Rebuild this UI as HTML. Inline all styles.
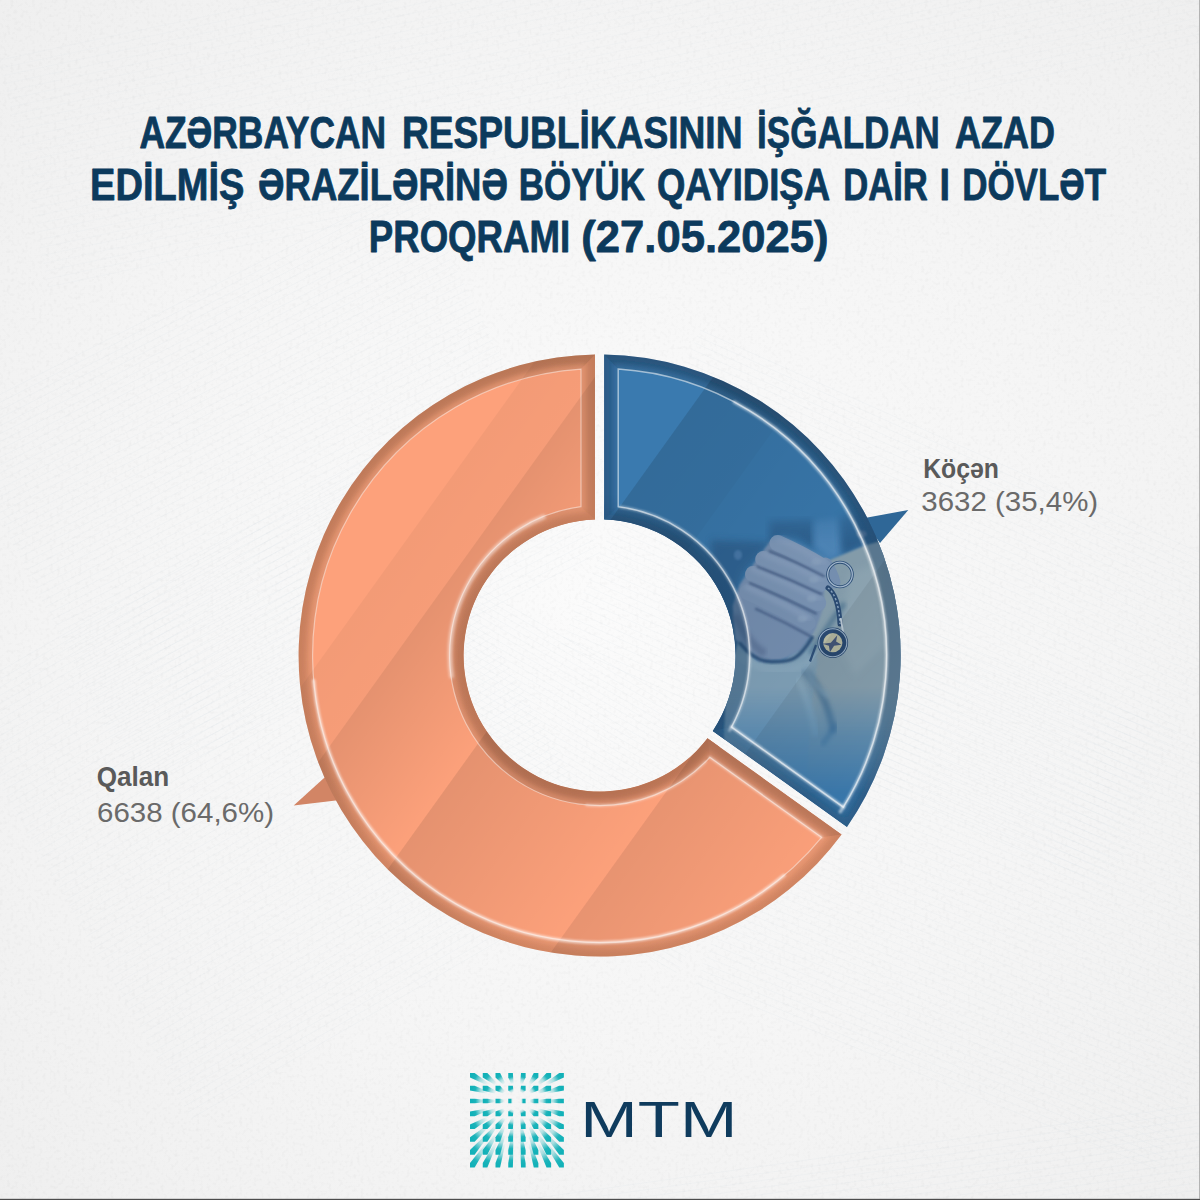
<!DOCTYPE html>
<html lang="az">
<head>
<meta charset="utf-8">
<title>Böyük Qayıdış</title>
<style>
html,body{margin:0;padding:0;background:#f5f5f5;}
body{width:1200px;height:1200px;overflow:hidden;position:relative;font-family:"Liberation Sans",sans-serif;}
svg{position:absolute;left:0;top:0;display:block}
.t{font-family:"Liberation Sans",sans-serif;font-weight:700;font-size:43.5px;fill:#0c3a5c;stroke:#0c3a5c;stroke-width:0.8px;stroke-linejoin:round}
.lb{font-family:"Liberation Sans",sans-serif;font-weight:700;font-size:27px;fill:#5a5a5a}
.lv{font-family:"Liberation Sans",sans-serif;font-weight:400;font-size:28px;fill:#6a6a6a}
.mtm{font-family:"Liberation Sans",sans-serif;font-weight:400;font-size:50.5px;fill:#0f3b5d}
</style>
</head>
<body>
<svg width="1200" height="1200" viewBox="0 0 1200 1200">
<defs>
<radialGradient id="bgv" cx="0.5" cy="0.5" r="0.75">
<stop offset="0" stop-color="#fbfbfb"/><stop offset="0.55" stop-color="#f5f5f5"/><stop offset="0.95" stop-color="#efefef"/>
</radialGradient>
<filter id="paper" x="0" y="0" width="100%" height="100%"><feTurbulence type="fractalNoise" baseFrequency="0.28" numOctaves="2" seed="4"/><feColorMatrix type="matrix" values="0 0 0 0 0  0 0 0 0 0  0 0 0 0 0  0.9 0 0 0 -0.42"/></filter>
<linearGradient id="glossO" gradientUnits="userSpaceOnUse" x1="348.4" y1="475.0" x2="855.9" y2="839.7"><stop offset="0.0000" stop-color="#000" stop-opacity="0.000"/><stop offset="0.1352" stop-color="#000" stop-opacity="0.000"/><stop offset="0.1368" stop-color="#000" stop-opacity="0.040"/><stop offset="0.2280" stop-color="#000" stop-opacity="0.028"/><stop offset="0.2296" stop-color="#000" stop-opacity="0.095"/><stop offset="0.4184" stop-color="#000" stop-opacity="0.005"/><stop offset="0.4200" stop-color="#000" stop-opacity="0.095"/><stop offset="0.7080" stop-color="#000" stop-opacity="0.005"/><stop offset="0.7096" stop-color="#000" stop-opacity="0.085"/><stop offset="1.0000" stop-color="#000" stop-opacity="0.000"/></linearGradient>
<linearGradient id="glossB" gradientUnits="userSpaceOnUse" x1="348.4" y1="475.0" x2="855.9" y2="839.7"><stop offset="0.0000" stop-color="#000" stop-opacity="0.000"/><stop offset="0.3816" stop-color="#000" stop-opacity="0.000"/><stop offset="0.3832" stop-color="#000" stop-opacity="0.125"/><stop offset="0.5096" stop-color="#000" stop-opacity="0.110"/><stop offset="0.5112" stop-color="#000" stop-opacity="0.085"/><stop offset="0.7752" stop-color="#000" stop-opacity="0.030"/><stop offset="0.7768" stop-color="#000" stop-opacity="0.090"/><stop offset="1.0000" stop-color="#000" stop-opacity="0.010"/></linearGradient>
<linearGradient id="ovO" gradientUnits="userSpaceOnUse" x1="0" y1="354" x2="0" y2="956"><stop offset="0" stop-color="#c07c5c"/><stop offset="0.5" stop-color="#d48866"/><stop offset="1" stop-color="#e3926e"/></linearGradient>
<linearGradient id="ivO" gradientUnits="userSpaceOnUse" x1="0" y1="519" x2="0" y2="791"><stop offset="0" stop-color="#dc8d6a"/><stop offset="0.5" stop-color="#cf8463"/><stop offset="1" stop-color="#c27a5b"/></linearGradient>
<linearGradient id="ovB" gradientUnits="userSpaceOnUse" x1="0" y1="354" x2="0" y2="956"><stop offset="0" stop-color="#2b5982"/><stop offset="0.5" stop-color="#2f6391"/><stop offset="1" stop-color="#346c9c"/></linearGradient>
<linearGradient id="ivB" gradientUnits="userSpaceOnUse" x1="0" y1="519" x2="0" y2="791"><stop offset="0" stop-color="#336a9a"/><stop offset="0.5" stop-color="#2f6391"/><stop offset="1" stop-color="#2b5a85"/></linearGradient>
<filter id="b4" x="-10%" y="-10%" width="120%" height="120%"><feGaussianBlur stdDeviation="3.5"/></filter>
<filter id="b2" x="-10%" y="-10%" width="120%" height="120%"><feGaussianBlur stdDeviation="2"/></filter>
<filter id="b15" x="-10%" y="-10%" width="120%" height="120%"><feGaussianBlur stdDeviation="1.5"/></filter>
<filter id="b1" x="-10%" y="-10%" width="120%" height="120%"><feGaussianBlur stdDeviation="0.9"/></filter>
<filter id="b6" x="-20%" y="-20%" width="140%" height="140%"><feGaussianBlur stdDeviation="6"/></filter>
<linearGradient id="pmg" gradientUnits="userSpaceOnUse" x1="0" y1="495" x2="0" y2="795"><stop offset="0" stop-color="#fff" stop-opacity="0"/><stop offset="0.08" stop-color="#fff" stop-opacity="0.5"/><stop offset="0.16" stop-color="#fff" stop-opacity="1"/><stop offset="0.64" stop-color="#fff" stop-opacity="1"/><stop offset="0.8" stop-color="#fff" stop-opacity="0.5"/><stop offset="1" stop-color="#fff" stop-opacity="0"/></linearGradient>
<mask id="pm" maskUnits="userSpaceOnUse" x="600" y="340" width="320" height="520"><rect x="600" y="340" width="320" height="520" fill="url(#pmg)"/></mask>
<clipPath id="cbo"><path d="M604.20 354.54 A301.00 301.00 0 0 1 846.99 826.96 L712.80 730.88 A136.00 136.00 0 0 0 604.20 519.58 Z"/></clipPath>
<clipPath id="cbi"><path d="M618.20 369.10 A287.00 287.00 0 0 1 843.30 807.09 L731.45 727.02 A150.00 150.00 0 0 0 618.20 506.66 Z"/></clipPath>
<clipPath id="coo"><path d="M841.64 834.44 A301.00 301.00 0 1 1 595.00 354.54 L595.00 519.58 A136.00 136.00 0 1 0 707.44 738.36 Z"/></clipPath>
<clipPath id="coi"><path d="M821.64 837.34 A287.00 287.00 0 1 1 581.00 369.10 L581.00 506.66 A150.00 150.00 0 1 0 709.80 757.27 Z"/></clipPath>
<linearGradient id="lg0" gradientUnits="userSpaceOnUse" x1="472.30" y1="1075.30" x2="487.43" y2="1084.04"><stop offset="0" stop-color="#12b1b8"/><stop offset="0.22" stop-color="#12b1b8" stop-opacity="0.95"/><stop offset="0.55" stop-color="#12b1b8" stop-opacity="0.33"/><stop offset="1" stop-color="#12b1b8" stop-opacity="0"/></linearGradient><linearGradient id="lg1" gradientUnits="userSpaceOnUse" x1="485.05" y1="1075.30" x2="495.84" y2="1084.04"><stop offset="0" stop-color="#12b1b8"/><stop offset="0.22" stop-color="#12b1b8" stop-opacity="0.95"/><stop offset="0.55" stop-color="#12b1b8" stop-opacity="0.33"/><stop offset="1" stop-color="#12b1b8" stop-opacity="0"/></linearGradient><linearGradient id="lg2" gradientUnits="userSpaceOnUse" x1="497.80" y1="1075.30" x2="504.26" y2="1084.04"><stop offset="0" stop-color="#12b1b8"/><stop offset="0.22" stop-color="#12b1b8" stop-opacity="0.95"/><stop offset="0.55" stop-color="#12b1b8" stop-opacity="0.33"/><stop offset="1" stop-color="#12b1b8" stop-opacity="0"/></linearGradient><linearGradient id="lg3" gradientUnits="userSpaceOnUse" x1="510.55" y1="1075.30" x2="512.67" y2="1084.04"><stop offset="0" stop-color="#12b1b8"/><stop offset="0.22" stop-color="#12b1b8" stop-opacity="0.95"/><stop offset="0.55" stop-color="#12b1b8" stop-opacity="0.33"/><stop offset="1" stop-color="#12b1b8" stop-opacity="0"/></linearGradient><linearGradient id="lg4" gradientUnits="userSpaceOnUse" x1="523.30" y1="1075.30" x2="521.09" y2="1084.04"><stop offset="0" stop-color="#12b1b8"/><stop offset="0.22" stop-color="#12b1b8" stop-opacity="0.95"/><stop offset="0.55" stop-color="#12b1b8" stop-opacity="0.33"/><stop offset="1" stop-color="#12b1b8" stop-opacity="0"/></linearGradient><linearGradient id="lg5" gradientUnits="userSpaceOnUse" x1="536.05" y1="1075.30" x2="529.50" y2="1084.04"><stop offset="0" stop-color="#12b1b8"/><stop offset="0.22" stop-color="#12b1b8" stop-opacity="0.95"/><stop offset="0.55" stop-color="#12b1b8" stop-opacity="0.33"/><stop offset="1" stop-color="#12b1b8" stop-opacity="0"/></linearGradient><linearGradient id="lg6" gradientUnits="userSpaceOnUse" x1="548.80" y1="1075.30" x2="537.92" y2="1084.04"><stop offset="0" stop-color="#12b1b8"/><stop offset="0.22" stop-color="#12b1b8" stop-opacity="0.95"/><stop offset="0.55" stop-color="#12b1b8" stop-opacity="0.33"/><stop offset="1" stop-color="#12b1b8" stop-opacity="0"/></linearGradient><linearGradient id="lg7" gradientUnits="userSpaceOnUse" x1="561.55" y1="1075.30" x2="546.33" y2="1084.04"><stop offset="0" stop-color="#12b1b8"/><stop offset="0.22" stop-color="#12b1b8" stop-opacity="0.95"/><stop offset="0.55" stop-color="#12b1b8" stop-opacity="0.33"/><stop offset="1" stop-color="#12b1b8" stop-opacity="0"/></linearGradient><linearGradient id="lg8" gradientUnits="userSpaceOnUse" x1="472.30" y1="1088.15" x2="487.43" y2="1092.52"><stop offset="0" stop-color="#12b1b8"/><stop offset="0.22" stop-color="#12b1b8" stop-opacity="0.95"/><stop offset="0.55" stop-color="#12b1b8" stop-opacity="0.33"/><stop offset="1" stop-color="#12b1b8" stop-opacity="0"/></linearGradient><linearGradient id="lg9" gradientUnits="userSpaceOnUse" x1="485.05" y1="1088.15" x2="495.84" y2="1092.52"><stop offset="0" stop-color="#12b1b8"/><stop offset="0.22" stop-color="#12b1b8" stop-opacity="0.95"/><stop offset="0.55" stop-color="#12b1b8" stop-opacity="0.33"/><stop offset="1" stop-color="#12b1b8" stop-opacity="0"/></linearGradient><linearGradient id="lg10" gradientUnits="userSpaceOnUse" x1="497.80" y1="1088.15" x2="504.26" y2="1092.52"><stop offset="0" stop-color="#12b1b8"/><stop offset="0.22" stop-color="#12b1b8" stop-opacity="0.95"/><stop offset="0.55" stop-color="#12b1b8" stop-opacity="0.33"/><stop offset="1" stop-color="#12b1b8" stop-opacity="0"/></linearGradient><linearGradient id="lg11" gradientUnits="userSpaceOnUse" x1="510.55" y1="1088.15" x2="512.67" y2="1092.52"><stop offset="0" stop-color="#12b1b8"/><stop offset="0.22" stop-color="#12b1b8" stop-opacity="0.95"/><stop offset="0.55" stop-color="#12b1b8" stop-opacity="0.33"/><stop offset="1" stop-color="#12b1b8" stop-opacity="0"/></linearGradient><linearGradient id="lg12" gradientUnits="userSpaceOnUse" x1="523.30" y1="1088.15" x2="521.09" y2="1092.52"><stop offset="0" stop-color="#12b1b8"/><stop offset="0.22" stop-color="#12b1b8" stop-opacity="0.95"/><stop offset="0.55" stop-color="#12b1b8" stop-opacity="0.33"/><stop offset="1" stop-color="#12b1b8" stop-opacity="0"/></linearGradient><linearGradient id="lg13" gradientUnits="userSpaceOnUse" x1="536.05" y1="1088.15" x2="529.50" y2="1092.52"><stop offset="0" stop-color="#12b1b8"/><stop offset="0.22" stop-color="#12b1b8" stop-opacity="0.95"/><stop offset="0.55" stop-color="#12b1b8" stop-opacity="0.33"/><stop offset="1" stop-color="#12b1b8" stop-opacity="0"/></linearGradient><linearGradient id="lg14" gradientUnits="userSpaceOnUse" x1="548.80" y1="1088.15" x2="537.92" y2="1092.52"><stop offset="0" stop-color="#12b1b8"/><stop offset="0.22" stop-color="#12b1b8" stop-opacity="0.95"/><stop offset="0.55" stop-color="#12b1b8" stop-opacity="0.33"/><stop offset="1" stop-color="#12b1b8" stop-opacity="0"/></linearGradient><linearGradient id="lg15" gradientUnits="userSpaceOnUse" x1="561.55" y1="1088.15" x2="546.33" y2="1092.52"><stop offset="0" stop-color="#12b1b8"/><stop offset="0.22" stop-color="#12b1b8" stop-opacity="0.95"/><stop offset="0.55" stop-color="#12b1b8" stop-opacity="0.33"/><stop offset="1" stop-color="#12b1b8" stop-opacity="0"/></linearGradient><linearGradient id="lg16" gradientUnits="userSpaceOnUse" x1="472.30" y1="1101.00" x2="487.43" y2="1101.00"><stop offset="0" stop-color="#12b1b8"/><stop offset="0.22" stop-color="#12b1b8" stop-opacity="0.95"/><stop offset="0.55" stop-color="#12b1b8" stop-opacity="0.33"/><stop offset="1" stop-color="#12b1b8" stop-opacity="0"/></linearGradient><linearGradient id="lg17" gradientUnits="userSpaceOnUse" x1="485.05" y1="1101.00" x2="495.84" y2="1101.00"><stop offset="0" stop-color="#12b1b8"/><stop offset="0.22" stop-color="#12b1b8" stop-opacity="0.95"/><stop offset="0.55" stop-color="#12b1b8" stop-opacity="0.33"/><stop offset="1" stop-color="#12b1b8" stop-opacity="0"/></linearGradient><linearGradient id="lg18" gradientUnits="userSpaceOnUse" x1="497.80" y1="1101.00" x2="504.26" y2="1101.00"><stop offset="0" stop-color="#12b1b8"/><stop offset="0.22" stop-color="#12b1b8" stop-opacity="0.95"/><stop offset="0.55" stop-color="#12b1b8" stop-opacity="0.33"/><stop offset="1" stop-color="#12b1b8" stop-opacity="0"/></linearGradient><linearGradient id="lg19" gradientUnits="userSpaceOnUse" x1="510.55" y1="1101.00" x2="512.67" y2="1101.00"><stop offset="0" stop-color="#12b1b8"/><stop offset="0.22" stop-color="#12b1b8" stop-opacity="0.95"/><stop offset="0.55" stop-color="#12b1b8" stop-opacity="0.33"/><stop offset="1" stop-color="#12b1b8" stop-opacity="0"/></linearGradient><linearGradient id="lg20" gradientUnits="userSpaceOnUse" x1="523.30" y1="1101.00" x2="521.09" y2="1101.00"><stop offset="0" stop-color="#12b1b8"/><stop offset="0.22" stop-color="#12b1b8" stop-opacity="0.95"/><stop offset="0.55" stop-color="#12b1b8" stop-opacity="0.33"/><stop offset="1" stop-color="#12b1b8" stop-opacity="0"/></linearGradient><linearGradient id="lg21" gradientUnits="userSpaceOnUse" x1="536.05" y1="1101.00" x2="529.50" y2="1101.00"><stop offset="0" stop-color="#12b1b8"/><stop offset="0.22" stop-color="#12b1b8" stop-opacity="0.95"/><stop offset="0.55" stop-color="#12b1b8" stop-opacity="0.33"/><stop offset="1" stop-color="#12b1b8" stop-opacity="0"/></linearGradient><linearGradient id="lg22" gradientUnits="userSpaceOnUse" x1="548.80" y1="1101.00" x2="537.92" y2="1101.00"><stop offset="0" stop-color="#12b1b8"/><stop offset="0.22" stop-color="#12b1b8" stop-opacity="0.95"/><stop offset="0.55" stop-color="#12b1b8" stop-opacity="0.33"/><stop offset="1" stop-color="#12b1b8" stop-opacity="0"/></linearGradient><linearGradient id="lg23" gradientUnits="userSpaceOnUse" x1="561.55" y1="1101.00" x2="546.33" y2="1101.00"><stop offset="0" stop-color="#12b1b8"/><stop offset="0.22" stop-color="#12b1b8" stop-opacity="0.95"/><stop offset="0.55" stop-color="#12b1b8" stop-opacity="0.33"/><stop offset="1" stop-color="#12b1b8" stop-opacity="0"/></linearGradient><linearGradient id="lg24" gradientUnits="userSpaceOnUse" x1="472.30" y1="1113.85" x2="487.43" y2="1109.48"><stop offset="0" stop-color="#12b1b8"/><stop offset="0.22" stop-color="#12b1b8" stop-opacity="0.95"/><stop offset="0.55" stop-color="#12b1b8" stop-opacity="0.33"/><stop offset="1" stop-color="#12b1b8" stop-opacity="0"/></linearGradient><linearGradient id="lg25" gradientUnits="userSpaceOnUse" x1="485.05" y1="1113.85" x2="495.84" y2="1109.48"><stop offset="0" stop-color="#12b1b8"/><stop offset="0.22" stop-color="#12b1b8" stop-opacity="0.95"/><stop offset="0.55" stop-color="#12b1b8" stop-opacity="0.33"/><stop offset="1" stop-color="#12b1b8" stop-opacity="0"/></linearGradient><linearGradient id="lg26" gradientUnits="userSpaceOnUse" x1="497.80" y1="1113.85" x2="504.26" y2="1109.48"><stop offset="0" stop-color="#12b1b8"/><stop offset="0.22" stop-color="#12b1b8" stop-opacity="0.95"/><stop offset="0.55" stop-color="#12b1b8" stop-opacity="0.33"/><stop offset="1" stop-color="#12b1b8" stop-opacity="0"/></linearGradient><linearGradient id="lg27" gradientUnits="userSpaceOnUse" x1="510.55" y1="1113.85" x2="512.67" y2="1109.48"><stop offset="0" stop-color="#12b1b8"/><stop offset="0.22" stop-color="#12b1b8" stop-opacity="0.95"/><stop offset="0.55" stop-color="#12b1b8" stop-opacity="0.33"/><stop offset="1" stop-color="#12b1b8" stop-opacity="0"/></linearGradient><linearGradient id="lg28" gradientUnits="userSpaceOnUse" x1="523.30" y1="1113.85" x2="521.09" y2="1109.48"><stop offset="0" stop-color="#12b1b8"/><stop offset="0.22" stop-color="#12b1b8" stop-opacity="0.95"/><stop offset="0.55" stop-color="#12b1b8" stop-opacity="0.33"/><stop offset="1" stop-color="#12b1b8" stop-opacity="0"/></linearGradient><linearGradient id="lg29" gradientUnits="userSpaceOnUse" x1="536.05" y1="1113.85" x2="529.50" y2="1109.48"><stop offset="0" stop-color="#12b1b8"/><stop offset="0.22" stop-color="#12b1b8" stop-opacity="0.95"/><stop offset="0.55" stop-color="#12b1b8" stop-opacity="0.33"/><stop offset="1" stop-color="#12b1b8" stop-opacity="0"/></linearGradient><linearGradient id="lg30" gradientUnits="userSpaceOnUse" x1="548.80" y1="1113.85" x2="537.92" y2="1109.48"><stop offset="0" stop-color="#12b1b8"/><stop offset="0.22" stop-color="#12b1b8" stop-opacity="0.95"/><stop offset="0.55" stop-color="#12b1b8" stop-opacity="0.33"/><stop offset="1" stop-color="#12b1b8" stop-opacity="0"/></linearGradient><linearGradient id="lg31" gradientUnits="userSpaceOnUse" x1="561.55" y1="1113.85" x2="546.33" y2="1109.48"><stop offset="0" stop-color="#12b1b8"/><stop offset="0.22" stop-color="#12b1b8" stop-opacity="0.95"/><stop offset="0.55" stop-color="#12b1b8" stop-opacity="0.33"/><stop offset="1" stop-color="#12b1b8" stop-opacity="0"/></linearGradient><linearGradient id="lg32" gradientUnits="userSpaceOnUse" x1="472.30" y1="1126.70" x2="487.43" y2="1117.96"><stop offset="0" stop-color="#12b1b8"/><stop offset="0.22" stop-color="#12b1b8" stop-opacity="0.95"/><stop offset="0.55" stop-color="#12b1b8" stop-opacity="0.33"/><stop offset="1" stop-color="#12b1b8" stop-opacity="0"/></linearGradient><linearGradient id="lg33" gradientUnits="userSpaceOnUse" x1="485.05" y1="1126.70" x2="495.84" y2="1117.96"><stop offset="0" stop-color="#12b1b8"/><stop offset="0.22" stop-color="#12b1b8" stop-opacity="0.95"/><stop offset="0.55" stop-color="#12b1b8" stop-opacity="0.33"/><stop offset="1" stop-color="#12b1b8" stop-opacity="0"/></linearGradient><linearGradient id="lg34" gradientUnits="userSpaceOnUse" x1="497.80" y1="1126.70" x2="504.26" y2="1117.96"><stop offset="0" stop-color="#12b1b8"/><stop offset="0.22" stop-color="#12b1b8" stop-opacity="0.95"/><stop offset="0.55" stop-color="#12b1b8" stop-opacity="0.33"/><stop offset="1" stop-color="#12b1b8" stop-opacity="0"/></linearGradient><linearGradient id="lg35" gradientUnits="userSpaceOnUse" x1="510.55" y1="1126.70" x2="512.67" y2="1117.96"><stop offset="0" stop-color="#12b1b8"/><stop offset="0.22" stop-color="#12b1b8" stop-opacity="0.95"/><stop offset="0.55" stop-color="#12b1b8" stop-opacity="0.33"/><stop offset="1" stop-color="#12b1b8" stop-opacity="0"/></linearGradient><linearGradient id="lg36" gradientUnits="userSpaceOnUse" x1="523.30" y1="1126.70" x2="521.09" y2="1117.96"><stop offset="0" stop-color="#12b1b8"/><stop offset="0.22" stop-color="#12b1b8" stop-opacity="0.95"/><stop offset="0.55" stop-color="#12b1b8" stop-opacity="0.33"/><stop offset="1" stop-color="#12b1b8" stop-opacity="0"/></linearGradient><linearGradient id="lg37" gradientUnits="userSpaceOnUse" x1="536.05" y1="1126.70" x2="529.50" y2="1117.96"><stop offset="0" stop-color="#12b1b8"/><stop offset="0.22" stop-color="#12b1b8" stop-opacity="0.95"/><stop offset="0.55" stop-color="#12b1b8" stop-opacity="0.33"/><stop offset="1" stop-color="#12b1b8" stop-opacity="0"/></linearGradient><linearGradient id="lg38" gradientUnits="userSpaceOnUse" x1="548.80" y1="1126.70" x2="537.92" y2="1117.96"><stop offset="0" stop-color="#12b1b8"/><stop offset="0.22" stop-color="#12b1b8" stop-opacity="0.95"/><stop offset="0.55" stop-color="#12b1b8" stop-opacity="0.33"/><stop offset="1" stop-color="#12b1b8" stop-opacity="0"/></linearGradient><linearGradient id="lg39" gradientUnits="userSpaceOnUse" x1="561.55" y1="1126.70" x2="546.33" y2="1117.96"><stop offset="0" stop-color="#12b1b8"/><stop offset="0.22" stop-color="#12b1b8" stop-opacity="0.95"/><stop offset="0.55" stop-color="#12b1b8" stop-opacity="0.33"/><stop offset="1" stop-color="#12b1b8" stop-opacity="0"/></linearGradient><linearGradient id="lg40" gradientUnits="userSpaceOnUse" x1="472.30" y1="1139.55" x2="487.43" y2="1126.44"><stop offset="0" stop-color="#12b1b8"/><stop offset="0.22" stop-color="#12b1b8" stop-opacity="0.95"/><stop offset="0.55" stop-color="#12b1b8" stop-opacity="0.33"/><stop offset="1" stop-color="#12b1b8" stop-opacity="0"/></linearGradient><linearGradient id="lg41" gradientUnits="userSpaceOnUse" x1="485.05" y1="1139.55" x2="495.84" y2="1126.44"><stop offset="0" stop-color="#12b1b8"/><stop offset="0.22" stop-color="#12b1b8" stop-opacity="0.95"/><stop offset="0.55" stop-color="#12b1b8" stop-opacity="0.33"/><stop offset="1" stop-color="#12b1b8" stop-opacity="0"/></linearGradient><linearGradient id="lg42" gradientUnits="userSpaceOnUse" x1="497.80" y1="1139.55" x2="504.26" y2="1126.44"><stop offset="0" stop-color="#12b1b8"/><stop offset="0.22" stop-color="#12b1b8" stop-opacity="0.95"/><stop offset="0.55" stop-color="#12b1b8" stop-opacity="0.33"/><stop offset="1" stop-color="#12b1b8" stop-opacity="0"/></linearGradient><linearGradient id="lg43" gradientUnits="userSpaceOnUse" x1="510.55" y1="1139.55" x2="512.67" y2="1126.44"><stop offset="0" stop-color="#12b1b8"/><stop offset="0.22" stop-color="#12b1b8" stop-opacity="0.95"/><stop offset="0.55" stop-color="#12b1b8" stop-opacity="0.33"/><stop offset="1" stop-color="#12b1b8" stop-opacity="0"/></linearGradient><linearGradient id="lg44" gradientUnits="userSpaceOnUse" x1="523.30" y1="1139.55" x2="521.09" y2="1126.44"><stop offset="0" stop-color="#12b1b8"/><stop offset="0.22" stop-color="#12b1b8" stop-opacity="0.95"/><stop offset="0.55" stop-color="#12b1b8" stop-opacity="0.33"/><stop offset="1" stop-color="#12b1b8" stop-opacity="0"/></linearGradient><linearGradient id="lg45" gradientUnits="userSpaceOnUse" x1="536.05" y1="1139.55" x2="529.50" y2="1126.44"><stop offset="0" stop-color="#12b1b8"/><stop offset="0.22" stop-color="#12b1b8" stop-opacity="0.95"/><stop offset="0.55" stop-color="#12b1b8" stop-opacity="0.33"/><stop offset="1" stop-color="#12b1b8" stop-opacity="0"/></linearGradient><linearGradient id="lg46" gradientUnits="userSpaceOnUse" x1="548.80" y1="1139.55" x2="537.92" y2="1126.44"><stop offset="0" stop-color="#12b1b8"/><stop offset="0.22" stop-color="#12b1b8" stop-opacity="0.95"/><stop offset="0.55" stop-color="#12b1b8" stop-opacity="0.33"/><stop offset="1" stop-color="#12b1b8" stop-opacity="0"/></linearGradient><linearGradient id="lg47" gradientUnits="userSpaceOnUse" x1="561.55" y1="1139.55" x2="546.33" y2="1126.44"><stop offset="0" stop-color="#12b1b8"/><stop offset="0.22" stop-color="#12b1b8" stop-opacity="0.95"/><stop offset="0.55" stop-color="#12b1b8" stop-opacity="0.33"/><stop offset="1" stop-color="#12b1b8" stop-opacity="0"/></linearGradient><linearGradient id="lg48" gradientUnits="userSpaceOnUse" x1="472.30" y1="1152.40" x2="487.43" y2="1134.92"><stop offset="0" stop-color="#12b1b8"/><stop offset="0.22" stop-color="#12b1b8" stop-opacity="0.95"/><stop offset="0.55" stop-color="#12b1b8" stop-opacity="0.33"/><stop offset="1" stop-color="#12b1b8" stop-opacity="0"/></linearGradient><linearGradient id="lg49" gradientUnits="userSpaceOnUse" x1="485.05" y1="1152.40" x2="495.84" y2="1134.92"><stop offset="0" stop-color="#12b1b8"/><stop offset="0.22" stop-color="#12b1b8" stop-opacity="0.95"/><stop offset="0.55" stop-color="#12b1b8" stop-opacity="0.33"/><stop offset="1" stop-color="#12b1b8" stop-opacity="0"/></linearGradient><linearGradient id="lg50" gradientUnits="userSpaceOnUse" x1="497.80" y1="1152.40" x2="504.26" y2="1134.92"><stop offset="0" stop-color="#12b1b8"/><stop offset="0.22" stop-color="#12b1b8" stop-opacity="0.95"/><stop offset="0.55" stop-color="#12b1b8" stop-opacity="0.33"/><stop offset="1" stop-color="#12b1b8" stop-opacity="0"/></linearGradient><linearGradient id="lg51" gradientUnits="userSpaceOnUse" x1="510.55" y1="1152.40" x2="512.67" y2="1134.92"><stop offset="0" stop-color="#12b1b8"/><stop offset="0.22" stop-color="#12b1b8" stop-opacity="0.95"/><stop offset="0.55" stop-color="#12b1b8" stop-opacity="0.33"/><stop offset="1" stop-color="#12b1b8" stop-opacity="0"/></linearGradient><linearGradient id="lg52" gradientUnits="userSpaceOnUse" x1="523.30" y1="1152.40" x2="521.09" y2="1134.92"><stop offset="0" stop-color="#12b1b8"/><stop offset="0.22" stop-color="#12b1b8" stop-opacity="0.95"/><stop offset="0.55" stop-color="#12b1b8" stop-opacity="0.33"/><stop offset="1" stop-color="#12b1b8" stop-opacity="0"/></linearGradient><linearGradient id="lg53" gradientUnits="userSpaceOnUse" x1="536.05" y1="1152.40" x2="529.50" y2="1134.92"><stop offset="0" stop-color="#12b1b8"/><stop offset="0.22" stop-color="#12b1b8" stop-opacity="0.95"/><stop offset="0.55" stop-color="#12b1b8" stop-opacity="0.33"/><stop offset="1" stop-color="#12b1b8" stop-opacity="0"/></linearGradient><linearGradient id="lg54" gradientUnits="userSpaceOnUse" x1="548.80" y1="1152.40" x2="537.92" y2="1134.92"><stop offset="0" stop-color="#12b1b8"/><stop offset="0.22" stop-color="#12b1b8" stop-opacity="0.95"/><stop offset="0.55" stop-color="#12b1b8" stop-opacity="0.33"/><stop offset="1" stop-color="#12b1b8" stop-opacity="0"/></linearGradient><linearGradient id="lg55" gradientUnits="userSpaceOnUse" x1="561.55" y1="1152.40" x2="546.33" y2="1134.92"><stop offset="0" stop-color="#12b1b8"/><stop offset="0.22" stop-color="#12b1b8" stop-opacity="0.95"/><stop offset="0.55" stop-color="#12b1b8" stop-opacity="0.33"/><stop offset="1" stop-color="#12b1b8" stop-opacity="0"/></linearGradient><linearGradient id="lg56" gradientUnits="userSpaceOnUse" x1="472.30" y1="1165.25" x2="487.43" y2="1143.40"><stop offset="0" stop-color="#12b1b8"/><stop offset="0.22" stop-color="#12b1b8" stop-opacity="0.95"/><stop offset="0.55" stop-color="#12b1b8" stop-opacity="0.33"/><stop offset="1" stop-color="#12b1b8" stop-opacity="0"/></linearGradient><linearGradient id="lg57" gradientUnits="userSpaceOnUse" x1="485.05" y1="1165.25" x2="495.84" y2="1143.40"><stop offset="0" stop-color="#12b1b8"/><stop offset="0.22" stop-color="#12b1b8" stop-opacity="0.95"/><stop offset="0.55" stop-color="#12b1b8" stop-opacity="0.33"/><stop offset="1" stop-color="#12b1b8" stop-opacity="0"/></linearGradient><linearGradient id="lg58" gradientUnits="userSpaceOnUse" x1="497.80" y1="1165.25" x2="504.26" y2="1143.40"><stop offset="0" stop-color="#12b1b8"/><stop offset="0.22" stop-color="#12b1b8" stop-opacity="0.95"/><stop offset="0.55" stop-color="#12b1b8" stop-opacity="0.33"/><stop offset="1" stop-color="#12b1b8" stop-opacity="0"/></linearGradient><linearGradient id="lg59" gradientUnits="userSpaceOnUse" x1="510.55" y1="1165.25" x2="512.67" y2="1143.40"><stop offset="0" stop-color="#12b1b8"/><stop offset="0.22" stop-color="#12b1b8" stop-opacity="0.95"/><stop offset="0.55" stop-color="#12b1b8" stop-opacity="0.33"/><stop offset="1" stop-color="#12b1b8" stop-opacity="0"/></linearGradient><linearGradient id="lg60" gradientUnits="userSpaceOnUse" x1="523.30" y1="1165.25" x2="521.09" y2="1143.40"><stop offset="0" stop-color="#12b1b8"/><stop offset="0.22" stop-color="#12b1b8" stop-opacity="0.95"/><stop offset="0.55" stop-color="#12b1b8" stop-opacity="0.33"/><stop offset="1" stop-color="#12b1b8" stop-opacity="0"/></linearGradient><linearGradient id="lg61" gradientUnits="userSpaceOnUse" x1="536.05" y1="1165.25" x2="529.50" y2="1143.40"><stop offset="0" stop-color="#12b1b8"/><stop offset="0.22" stop-color="#12b1b8" stop-opacity="0.95"/><stop offset="0.55" stop-color="#12b1b8" stop-opacity="0.33"/><stop offset="1" stop-color="#12b1b8" stop-opacity="0"/></linearGradient><linearGradient id="lg62" gradientUnits="userSpaceOnUse" x1="548.80" y1="1165.25" x2="537.92" y2="1143.40"><stop offset="0" stop-color="#12b1b8"/><stop offset="0.22" stop-color="#12b1b8" stop-opacity="0.95"/><stop offset="0.55" stop-color="#12b1b8" stop-opacity="0.33"/><stop offset="1" stop-color="#12b1b8" stop-opacity="0"/></linearGradient><linearGradient id="lg63" gradientUnits="userSpaceOnUse" x1="561.55" y1="1165.25" x2="546.33" y2="1143.40"><stop offset="0" stop-color="#12b1b8"/><stop offset="0.22" stop-color="#12b1b8" stop-opacity="0.95"/><stop offset="0.55" stop-color="#12b1b8" stop-opacity="0.33"/><stop offset="1" stop-color="#12b1b8" stop-opacity="0"/></linearGradient>
</defs>
<rect width="1200" height="1200" fill="url(#bgv)"/>
<rect width="1200" height="1200" filter="url(#paper)" opacity="0.07"/>
<g stroke="#c9d6de" stroke-width="0.7" fill="none"><g opacity="0.17"><path d="M-50.0 420.0 L413.3 183.9"/><path d="M-46.8 426.2 L416.5 190.2"/><path d="M-43.6 432.5 L419.7 196.4"/><path d="M-40.5 438.7 L422.9 202.6"/><path d="M-37.3 444.9 L426.0 208.9"/><path d="M-34.1 451.2 L429.2 215.1"/><path d="M-30.9 457.4 L432.4 221.3"/><path d="M-27.8 463.7 L435.6 227.6"/><path d="M-24.6 469.9 L438.7 233.8"/><path d="M-21.4 476.1 L441.9 240.1"/><path d="M-18.2 482.4 L445.1 246.3"/><path d="M-15.0 488.6 L448.3 252.5"/><path d="M-11.9 494.8 L451.5 258.8"/><path d="M-8.7 501.1 L454.6 265.0"/><path d="M-5.5 507.3 L457.8 271.2"/><path d="M-2.3 513.6 L461.0 277.5"/><path d="M0.8 519.8 L464.2 283.7"/><path d="M4.0 526.0 L467.3 290.0"/><path d="M7.2 532.3 L470.5 296.2"/><path d="M10.4 538.5 L473.7 302.4"/><path d="M13.6 544.7 L476.9 308.7"/><path d="M16.7 551.0 L480.1 314.9"/><path d="M19.9 557.2 L483.2 321.1"/><path d="M23.1 563.5 L486.4 327.4"/><path d="M26.3 569.7 L489.6 333.6"/><path d="M29.4 575.9 L492.8 339.9"/><path d="M32.6 582.2 L495.9 346.1"/><path d="M35.8 588.4 L499.1 352.3"/><path d="M39.0 594.6 L502.3 358.6"/><path d="M42.2 600.9 L505.5 364.8"/><path d="M45.3 607.1 L508.7 371.0"/><path d="M48.5 613.3 L511.8 377.3"/><path d="M51.7 619.6 L515.0 383.5"/><path d="M54.9 625.8 L518.2 389.7"/><path d="M58.0 632.1 L521.4 396.0"/><path d="M61.2 638.3 L524.6 402.2"/><path d="M64.4 644.5 L527.7 408.5"/><path d="M67.6 650.8 L530.9 414.7"/><path d="M70.8 657.0 L534.1 420.9"/><path d="M73.9 663.2 L537.3 427.2"/><path d="M77.1 669.5 L540.4 433.4"/><path d="M80.3 675.7 L543.6 439.6"/><path d="M83.5 682.0 L546.8 445.9"/><path d="M86.7 688.2 L550.0 452.1"/><path d="M89.8 694.4 L553.2 458.4"/><path d="M93.0 700.7 L556.3 464.6"/><path d="M96.2 706.9 L559.5 470.8"/><path d="M99.4 713.1 L562.7 477.1"/><path d="M102.5 719.4 L565.9 483.3"/><path d="M105.7 725.6 L569.0 489.5"/><path d="M108.9 731.9 L572.2 495.8"/><path d="M112.1 738.1 L575.4 502.0"/><path d="M115.3 744.3 L578.6 508.3"/><path d="M118.4 750.6 L581.8 514.5"/><path d="M121.6 756.8 L584.9 520.7"/><path d="M124.8 763.0 L588.1 527.0"/><path d="M128.0 769.3 L591.3 533.2"/><path d="M131.1 775.5 L594.5 539.4"/><path d="M134.3 781.7 L597.6 545.7"/><path d="M137.5 788.0 L600.8 551.9"/></g><g opacity="0.16"><path d="M700.0 330.0 L1248.1 574.0"/><path d="M697.2 336.4 L1245.3 580.4"/><path d="M694.3 342.8 L1242.4 586.8"/><path d="M691.5 349.2 L1239.6 593.2"/><path d="M688.6 355.6 L1236.7 599.6"/><path d="M685.8 362.0 L1233.9 606.0"/><path d="M682.9 368.4 L1231.0 612.4"/><path d="M680.1 374.8 L1228.2 618.8"/><path d="M677.2 381.2 L1225.4 625.2"/><path d="M674.4 387.6 L1222.5 631.6"/><path d="M671.5 393.9 L1219.7 638.0"/><path d="M668.7 400.3 L1216.8 644.4"/><path d="M665.8 406.7 L1214.0 650.8"/><path d="M663.0 413.1 L1211.1 657.2"/><path d="M660.1 419.5 L1208.3 663.6"/><path d="M657.3 425.9 L1205.4 670.0"/><path d="M654.4 432.3 L1202.6 676.4"/><path d="M651.6 438.7 L1199.7 682.8"/><path d="M648.8 445.1 L1196.9 689.1"/><path d="M645.9 451.5 L1194.0 695.5"/><path d="M643.1 457.9 L1191.2 701.9"/><path d="M640.2 464.3 L1188.3 708.3"/><path d="M637.4 470.7 L1185.5 714.7"/><path d="M634.5 477.1 L1182.6 721.1"/><path d="M631.7 483.5 L1179.8 727.5"/><path d="M628.8 489.9 L1176.9 733.9"/><path d="M626.0 496.3 L1174.1 740.3"/><path d="M623.1 502.7 L1171.3 746.7"/><path d="M620.3 509.1 L1168.4 753.1"/><path d="M617.4 515.4 L1165.6 759.5"/><path d="M614.6 521.8 L1162.7 765.9"/><path d="M611.7 528.2 L1159.9 772.3"/><path d="M608.9 534.6 L1157.0 778.7"/><path d="M606.0 541.0 L1154.2 785.1"/><path d="M603.2 547.4 L1151.3 791.5"/><path d="M600.3 553.8 L1148.5 797.9"/><path d="M597.5 560.2 L1145.6 804.3"/><path d="M594.7 566.6 L1142.8 810.7"/><path d="M591.8 573.0 L1139.9 817.0"/><path d="M589.0 579.4 L1137.1 823.4"/><path d="M586.1 585.8 L1134.2 829.8"/><path d="M583.3 592.2 L1131.4 836.2"/><path d="M580.4 598.6 L1128.5 842.6"/><path d="M577.6 605.0 L1125.7 849.0"/><path d="M574.7 611.4 L1122.9 855.4"/><path d="M571.9 617.8 L1120.0 861.8"/><path d="M569.0 624.2 L1117.2 868.2"/><path d="M566.2 630.6 L1114.3 874.6"/><path d="M563.3 637.0 L1111.5 881.0"/><path d="M560.5 643.3 L1108.6 887.4"/></g><g opacity="0.16"><path d="M-50.0 700.0 L383.0 450.0"/><path d="M-46.5 706.1 L386.5 456.1"/><path d="M-43.0 712.1 L390.0 462.1"/><path d="M-39.5 718.2 L393.5 468.2"/><path d="M-36.0 724.2 L397.0 474.2"/><path d="M-32.5 730.3 L400.5 480.3"/><path d="M-29.0 736.4 L404.0 486.4"/><path d="M-25.5 742.4 L407.5 492.4"/><path d="M-22.0 748.5 L411.0 498.5"/><path d="M-18.5 754.6 L414.5 504.6"/><path d="M-15.0 760.6 L418.0 510.6"/><path d="M-11.5 766.7 L421.5 516.7"/><path d="M-8.0 772.7 L425.0 522.7"/><path d="M-4.5 778.8 L428.5 528.8"/><path d="M-1.0 784.9 L432.0 534.9"/><path d="M2.5 790.9 L435.5 540.9"/><path d="M6.0 797.0 L439.0 547.0"/><path d="M9.5 803.1 L442.5 553.1"/><path d="M13.0 809.1 L446.0 559.1"/><path d="M16.5 815.2 L449.5 565.2"/><path d="M20.0 821.2 L453.0 571.2"/><path d="M23.5 827.3 L456.5 577.3"/><path d="M27.0 833.4 L460.0 583.4"/><path d="M30.5 839.4 L463.5 589.4"/><path d="M34.0 845.5 L467.0 595.5"/><path d="M37.5 851.6 L470.5 601.6"/><path d="M41.0 857.6 L474.0 607.6"/><path d="M44.5 863.7 L477.5 613.7"/><path d="M48.0 869.7 L481.0 619.7"/><path d="M51.5 875.8 L484.5 625.8"/><path d="M55.0 881.9 L488.0 631.9"/><path d="M58.5 887.9 L491.5 637.9"/><path d="M62.0 894.0 L495.0 644.0"/><path d="M65.5 900.1 L498.5 650.1"/><path d="M69.0 906.1 L502.0 656.1"/><path d="M72.5 912.2 L505.5 662.2"/><path d="M76.0 918.2 L509.0 668.2"/><path d="M79.5 924.3 L512.5 674.3"/><path d="M83.0 930.4 L516.0 680.4"/><path d="M86.5 936.4 L519.5 686.4"/><path d="M90.0 942.5 L523.0 692.5"/><path d="M93.5 948.5 L526.5 698.5"/><path d="M97.0 954.6 L530.0 704.6"/><path d="M100.5 960.7 L533.5 710.7"/><path d="M104.0 966.7 L537.0 716.7"/><path d="M107.5 972.8 L540.5 722.8"/><path d="M111.0 978.9 L544.0 728.9"/><path d="M114.5 984.9 L547.5 734.9"/><path d="M118.0 991.0 L551.0 741.0"/><path d="M121.5 997.0 L554.5 747.0"/><path d="M125.0 1003.1 L558.0 753.1"/><path d="M128.5 1009.2 L561.5 759.2"/><path d="M132.0 1015.2 L565.0 765.2"/><path d="M135.5 1021.3 L568.5 771.3"/><path d="M139.0 1027.4 L572.0 777.4"/><path d="M142.5 1033.4 L575.5 783.4"/><path d="M146.0 1039.5 L579.0 789.5"/><path d="M149.5 1045.5 L582.5 795.5"/><path d="M153.0 1051.6 L586.0 801.6"/><path d="M156.5 1057.7 L589.5 807.7"/><path d="M160.0 1063.7 L593.0 813.7"/><path d="M163.5 1069.8 L596.5 819.8"/><path d="M167.0 1075.9 L600.0 825.9"/><path d="M170.5 1081.9 L603.5 831.9"/><path d="M174.0 1088.0 L607.0 838.0"/><path d="M177.5 1094.0 L610.5 844.0"/><path d="M181.0 1100.1 L614.0 850.1"/><path d="M184.5 1106.2 L617.5 856.2"/><path d="M188.0 1112.2 L621.0 862.2"/><path d="M191.5 1118.3 L624.5 868.3"/></g><g opacity="0.16"><path d="M380.0 1220.0 L1271.2 1094.7"/><path d="M381.0 1226.9 L1272.2 1101.7"/><path d="M381.9 1233.9 L1273.2 1108.6"/><path d="M382.9 1240.8 L1274.2 1115.5"/><path d="M383.9 1247.7 L1275.1 1122.5"/><path d="M384.9 1254.7 L1276.1 1129.4"/><path d="M385.8 1261.6 L1277.1 1136.3"/><path d="M386.8 1268.5 L1278.1 1143.3"/><path d="M387.8 1275.5 L1279.0 1150.2"/><path d="M388.8 1282.4 L1280.0 1157.1"/><path d="M389.7 1289.3 L1281.0 1164.1"/><path d="M390.7 1296.3 L1282.0 1171.0"/><path d="M391.7 1303.2 L1282.9 1177.9"/><path d="M392.7 1310.1 L1283.9 1184.9"/><path d="M393.6 1317.0 L1284.9 1191.8"/><path d="M394.6 1324.0 L1285.9 1198.7"/><path d="M395.6 1330.9 L1286.8 1205.7"/><path d="M396.6 1337.8 L1287.8 1212.6"/><path d="M397.5 1344.8 L1288.8 1219.5"/><path d="M398.5 1351.7 L1289.8 1226.4"/><path d="M399.5 1358.6 L1290.7 1233.4"/><path d="M400.5 1365.6 L1291.7 1240.3"/><path d="M401.4 1372.5 L1292.7 1247.2"/><path d="M402.4 1379.4 L1293.6 1254.2"/><path d="M403.4 1386.4 L1294.6 1261.1"/><path d="M404.4 1393.3 L1295.6 1268.0"/><path d="M405.3 1400.2 L1296.6 1275.0"/><path d="M406.3 1407.2 L1297.5 1281.9"/><path d="M407.3 1414.1 L1298.5 1288.8"/><path d="M408.3 1421.0 L1299.5 1295.8"/><path d="M409.2 1428.0 L1300.5 1302.7"/><path d="M410.2 1434.9 L1301.4 1309.6"/><path d="M411.2 1441.8 L1302.4 1316.6"/><path d="M412.1 1448.8 L1303.4 1323.5"/><path d="M413.1 1455.7 L1304.4 1330.4"/><path d="M414.1 1462.6 L1305.3 1337.4"/><path d="M415.1 1469.5 L1306.3 1344.3"/><path d="M416.0 1476.5 L1307.3 1351.2"/><path d="M417.0 1483.4 L1308.3 1358.2"/><path d="M418.0 1490.3 L1309.2 1365.1"/></g><g opacity="0.16"><path d="M850.0 600.0 L1313.6 787.3"/><path d="M847.4 606.5 L1311.0 793.8"/><path d="M844.8 613.0 L1308.3 800.3"/><path d="M842.1 619.5 L1305.7 806.8"/><path d="M839.5 626.0 L1303.1 813.3"/><path d="M836.9 632.5 L1300.5 819.8"/><path d="M834.3 638.9 L1297.9 826.2"/><path d="M831.6 645.4 L1295.2 832.7"/><path d="M829.0 651.9 L1292.6 839.2"/><path d="M826.4 658.4 L1290.0 845.7"/><path d="M823.8 664.9 L1287.4 852.2"/><path d="M821.2 671.4 L1284.7 858.7"/><path d="M818.5 677.9 L1282.1 865.2"/><path d="M815.9 684.4 L1279.5 871.7"/><path d="M813.3 690.9 L1276.9 878.2"/><path d="M810.7 697.4 L1274.3 884.7"/><path d="M808.0 703.8 L1271.6 891.1"/><path d="M805.4 710.3 L1269.0 897.6"/><path d="M802.8 716.8 L1266.4 904.1"/><path d="M800.2 723.3 L1263.8 910.6"/><path d="M797.6 729.8 L1261.1 917.1"/><path d="M794.9 736.3 L1258.5 923.6"/><path d="M792.3 742.8 L1255.9 930.1"/><path d="M789.7 749.3 L1253.3 936.6"/><path d="M787.1 755.8 L1250.7 943.1"/><path d="M784.4 762.3 L1248.0 949.6"/><path d="M781.8 768.7 L1245.4 956.1"/><path d="M779.2 775.2 L1242.8 962.5"/><path d="M776.6 781.7 L1240.2 969.0"/><path d="M774.0 788.2 L1237.5 975.5"/><path d="M771.3 794.7 L1234.9 982.0"/><path d="M768.7 801.2 L1232.3 988.5"/><path d="M766.1 807.7 L1229.7 995.0"/><path d="M763.5 814.2 L1227.1 1001.5"/><path d="M760.8 820.7 L1224.4 1008.0"/><path d="M758.2 827.2 L1221.8 1014.5"/><path d="M755.6 833.7 L1219.2 1021.0"/><path d="M753.0 840.1 L1216.6 1027.4"/><path d="M750.4 846.6 L1213.9 1033.9"/><path d="M747.7 853.1 L1211.3 1040.4"/><path d="M745.1 859.6 L1208.7 1046.9"/><path d="M742.5 866.1 L1206.1 1053.4"/><path d="M739.9 872.6 L1203.5 1059.9"/><path d="M737.2 879.1 L1200.8 1066.4"/><path d="M734.6 885.6 L1198.2 1072.9"/><path d="M732.0 892.1 L1195.6 1079.4"/><path d="M729.4 898.6 L1193.0 1085.9"/><path d="M726.8 905.0 L1190.3 1092.3"/><path d="M724.1 911.5 L1187.7 1098.8"/><path d="M721.5 918.0 L1185.1 1105.3"/><path d="M718.9 924.5 L1182.5 1111.8"/><path d="M716.3 931.0 L1179.9 1118.3"/><path d="M713.6 937.5 L1177.2 1124.8"/><path d="M711.0 944.0 L1174.6 1131.3"/><path d="M708.4 950.5 L1172.0 1137.8"/><path d="M705.8 957.0 L1169.4 1144.3"/><path d="M703.2 963.5 L1166.7 1150.8"/><path d="M700.5 969.9 L1164.1 1157.2"/><path d="M697.9 976.4 L1161.5 1163.7"/><path d="M695.3 982.9 L1158.9 1170.2"/></g><g opacity="0.16"><path d="M430.0 560.0 L793.7 770.0"/><path d="M427.0 565.2 L790.7 775.2"/><path d="M424.0 570.4 L787.7 780.4"/><path d="M421.0 575.6 L784.7 785.6"/><path d="M418.0 580.8 L781.7 790.8"/><path d="M415.0 586.0 L778.7 796.0"/><path d="M412.0 591.2 L775.7 801.2"/><path d="M409.0 596.4 L772.7 806.4"/><path d="M406.0 601.6 L769.7 811.6"/><path d="M403.0 606.8 L766.7 816.8"/><path d="M400.0 612.0 L763.7 822.0"/><path d="M397.0 617.2 L760.7 827.2"/><path d="M394.0 622.4 L757.7 832.4"/><path d="M391.0 627.5 L754.7 837.5"/><path d="M388.0 632.7 L751.7 842.7"/><path d="M385.0 637.9 L748.7 847.9"/><path d="M382.0 643.1 L745.7 853.1"/><path d="M379.0 648.3 L742.7 858.3"/><path d="M376.0 653.5 L739.7 863.5"/><path d="M373.0 658.7 L736.7 868.7"/><path d="M370.0 663.9 L733.7 873.9"/><path d="M367.0 669.1 L730.7 879.1"/><path d="M364.0 674.3 L727.7 884.3"/><path d="M361.0 679.5 L724.7 889.5"/><path d="M358.0 684.7 L721.7 894.7"/><path d="M355.0 689.9 L718.7 899.9"/><path d="M352.0 695.1 L715.7 905.1"/><path d="M349.0 700.3 L712.7 910.3"/><path d="M346.0 705.5 L709.7 915.5"/><path d="M343.0 710.7 L706.7 920.7"/><path d="M340.0 715.9 L703.7 925.9"/><path d="M337.0 721.1 L700.7 931.1"/><path d="M334.0 726.3 L697.7 936.3"/><path d="M331.0 731.5 L694.7 941.5"/><path d="M328.0 736.7 L691.7 946.7"/><path d="M325.0 741.9 L688.7 951.9"/><path d="M322.0 747.1 L685.7 957.1"/><path d="M319.0 752.3 L682.7 962.3"/><path d="M316.0 757.5 L679.7 967.5"/><path d="M313.0 762.6 L676.7 972.6"/></g><g opacity="0.12"><path d="M0.0 60.0 L1271.6 -210.3"/><path d="M1.7 67.8 L1273.3 -202.5"/><path d="M3.3 75.7 L1274.9 -194.6"/><path d="M5.0 83.5 L1276.6 -186.8"/><path d="M6.7 91.3 L1278.2 -179.0"/><path d="M8.3 99.1 L1279.9 -171.2"/><path d="M10.0 107.0 L1281.6 -163.3"/><path d="M11.6 114.8 L1283.2 -155.5"/><path d="M13.3 122.6 L1284.9 -147.7"/><path d="M15.0 130.4 L1286.6 -139.9"/><path d="M16.6 138.3 L1288.2 -132.0"/><path d="M18.3 146.1 L1289.9 -124.2"/><path d="M20.0 153.9 L1291.6 -116.4"/><path d="M21.6 161.7 L1293.2 -108.6"/><path d="M23.3 169.6 L1294.9 -100.7"/><path d="M24.9 177.4 L1296.5 -92.9"/><path d="M26.6 185.2 L1298.2 -85.1"/><path d="M28.3 193.0 L1299.9 -77.3"/><path d="M29.9 200.9 L1301.5 -69.4"/><path d="M31.6 208.7 L1303.2 -61.6"/><path d="M33.3 216.5 L1304.9 -53.8"/><path d="M34.9 224.3 L1306.5 -46.0"/><path d="M36.6 232.2 L1308.2 -38.1"/><path d="M38.3 240.0 L1309.8 -30.3"/><path d="M39.9 247.8 L1311.5 -22.5"/><path d="M41.6 255.6 L1313.2 -14.7"/><path d="M43.2 263.5 L1314.8 -6.8"/><path d="M44.9 271.3 L1316.5 1.0"/><path d="M46.6 279.1 L1318.2 8.8"/><path d="M48.2 286.9 L1319.8 16.6"/></g></g>

<rect x="0" y="1198.4" width="1200" height="0.8" fill="#8a8a8a" opacity="0.5"/><rect x="0" y="1199" width="1200" height="1" fill="#4c4c4c"/><rect x="1199.3" y="0" width="0.7" height="1199" fill="#9a9a9a"/>
<!-- pointers -->
<polygon points="293.7,805.4 324.6,777.5 340,800" fill="#d28565"/>
<polygon points="908.3,510 862,518.5 880,543" fill="#2f6797"/>

<!-- orange segment -->
<g id="orange">
<path d="M841.64 834.44 A301.00 301.00 0 1 1 595.00 354.54 L595.00 519.58 A136.00 136.00 0 1 0 707.44 738.36 Z" fill="url(#ovO)"/>
<g clip-path="url(#coo)">
<circle cx="599.6" cy="655.5" r="143.5" fill="none" stroke="url(#ivO)" stroke-width="15.0"/>
<polygon points="841.64,834.44 707.44,738.36 709.80,757.27 821.64,837.34" fill="#c98162"/>
<polygon points="595.00,354.54 595.00,519.58 581.00,506.66 581.00,369.10" fill="#d58967"/>
<path d="M841.64 834.44 A301.00 301.00 0 1 1 595.00 354.54 L595.00 519.58 A136.00 136.00 0 1 0 707.44 738.36 Z" fill="none" stroke="#a0623f" stroke-opacity="0.24" stroke-width="10" filter="url(#b4)"/>
<path d="M821.64 837.34 A287.00 287.00 0 1 1 581.00 369.10 L581.00 506.66 A150.00 150.00 0 1 0 709.80 757.27 Z" fill="none" stroke="#f6a27e" stroke-opacity="0.55" stroke-width="9" filter="url(#b2)"/>
</g>
<path d="M821.64 837.34 A287.00 287.00 0 1 1 581.00 369.10 L581.00 506.66 A150.00 150.00 0 1 0 709.80 757.27 Z" fill="#fda17b"/>
<path d="M841.64 834.44 A301.00 301.00 0 1 1 595.00 354.54 L595.00 519.58 A136.00 136.00 0 1 0 707.44 738.36 Z" fill="url(#glossO)"/>
<path d="M821.64 837.34 A287.00 287.00 0 1 1 581.00 369.10 L581.00 506.66 A150.00 150.00 0 1 0 709.80 757.27 Z" fill="none" stroke="#fff" stroke-opacity="0.45" stroke-width="1.2"/>
<g clip-path="url(#coo)" fill="none" stroke="#fff" stroke-linecap="round">
<path d="M784.08 875.35 A287.00 287.00 0 0 1 313.69 680.51" stroke-opacity="0.6" stroke-width="3.2" filter="url(#b1)"/>
<path d="M451.55 676.31 A149.50 149.50 0 0 1 543.60 516.89" stroke-opacity="0.5" stroke-width="4.4" filter="url(#b15)"/>
<path d="M705.67 761.57 A150.00 150.00 0 0 1 586.53 804.93" stroke-opacity="0.4" stroke-width="2.4" filter="url(#b1)"/>
<path d="M709.80 757.27 L821.64 837.34" stroke-opacity="0.45" stroke-width="2.6" filter="url(#b1)"/>
</g>
</g>

<!-- blue segment -->
<g id="blue">
<path d="M604.20 354.54 A301.00 301.00 0 0 1 846.99 826.96 L712.80 730.88 A136.00 136.00 0 0 0 604.20 519.58 Z" fill="url(#ovB)"/>
<g clip-path="url(#cbo)">
<circle cx="599.6" cy="655.5" r="143.5" fill="none" stroke="url(#ivB)" stroke-width="15.0"/>
<polygon points="604.20,354.54 604.20,519.58 618.20,506.66 618.20,369.10" fill="#2f6392"/>
<polygon points="846.99,826.96 712.80,730.88 731.45,727.02 843.30,807.09" fill="#326998"/>
<path d="M604.20 354.54 A301.00 301.00 0 0 1 846.99 826.96 L712.80 730.88 A136.00 136.00 0 0 0 604.20 519.58 Z" fill="none" stroke="#1c4468" stroke-opacity="0.26" stroke-width="10" filter="url(#b4)"/>
<path d="M618.20 369.10 A287.00 287.00 0 0 1 843.30 807.09 L731.45 727.02 A150.00 150.00 0 0 0 618.20 506.66 Z" fill="none" stroke="#3b7bb0" stroke-opacity="0.5" stroke-width="9" filter="url(#b2)"/>
</g>
<path d="M618.20 369.10 A287.00 287.00 0 0 1 843.30 807.09 L731.45 727.02 A150.00 150.00 0 0 0 618.20 506.66 Z" fill="#3a7aaf"/>
<g id="photo" clip-path="url(#cbo)"><g mask="url(#pm)"><polygon points="711.0,540.0 771.0,542.2 744.0,573.0 732.0,607.5 739.5,645.0 711.0,675.0" fill="#2f608f" opacity="0.8" filter="url(#b4)"/><polygon points="769.5,520.5 813.7,519.0 814.5,548.2 798.0,537.7 780.0,535.5 769.5,545.2" fill="#2a5985" opacity="0.75" filter="url(#b4)"/><polygon points="813.7,520.5 840.0,517.5 842.2,555.0 828.0,561.0 823.5,555.0 813.7,546.7" fill="#578ec1" opacity="0.8" filter="url(#b4)"/><polygon points="839.2,516.0 871.5,513.0 889.5,529.5 864.0,546.0 842.2,555.7" fill="#2a5a87" opacity="0.75" filter="url(#b4)"/><ellipse cx="861.7" cy="534.0" rx="5" ry="3.5" fill="#6d86a8" opacity="0.8" filter="url(#b1)"/><ellipse cx="738.0" cy="555.0" rx="4" ry="5" fill="#4f7fb0" opacity="0.8" filter="url(#b1)"/><polygon points="828.0,560.7 864.0,545.7 904.5,534.7 930.0,600.0 930.0,825.0 798.0,825.0 801.0,705.0 810.0,654.0 810.0,639.0 817.5,600.0 823.5,577.5" fill="#88a1b0" filter="url(#b1)"/><polygon points="849.0,573.0 879.0,564.0 885.0,645.0 855.0,675.0 840.0,645.0" fill="#94acb9" opacity="0.6" filter="url(#b4)"/><polygon points="738.0,642.0 757.5,661.5 783.0,660.7 811.5,637.5 817.5,661.5 811.5,705.0 804.0,825.0 720.0,825.0 726.0,690.0 732.7,660.0" fill="#7fa0b7" filter="url(#b1)"/><path d="M742.5 657.0 Q765.0 673.5 790.5 669.0 T811.5 652.5" stroke="#88a7bd" stroke-width="9" fill="none" stroke-linecap="round" opacity="0.8" filter="url(#b2)"/><path d="M844.5 603.0 Q825.0 630.0 810.0 654.0" stroke="#47708f" stroke-width="5" fill="none" opacity="0.75" filter="url(#b2)"/><path d="M804.0 670.0 Q825.0 689.5 834.0 733.0" stroke="#446d90" stroke-width="7" fill="none" opacity="0.7" filter="url(#b2)"/><path d="M798.0 679.0 Q810.0 703.0 816.0 736.0" stroke="#8fb0c6" stroke-width="7" fill="none" opacity="0.75" filter="url(#b2)"/><path d="M804.0 665.5 Q813.0 685.0 828.0 697.0" stroke="#87a9c0" stroke-width="5" fill="none" opacity="0.6" filter="url(#b2)"/><path d="M822.0 745.0 Q831.0 733.0 835.5 724.0" stroke="#3f6c94" stroke-width="5" fill="none" opacity="0.6" filter="url(#b2)"/><polygon points="732.7,606.0 739.5,585.0 754.5,562.5 771.0,540.0 810.0,555.0 825.0,573.0 823.5,607.5 816.0,628.5 810.0,639.0 801.0,650.2 783.0,660.0 759.0,661.8 741.0,645.0 735.0,639.0" fill="#758fb1" filter="url(#b1)"/><path d="M825.7 564.0 Q831.7 573.0 834.0 582.0" stroke="#7994b6" stroke-width="13" fill="none" stroke-linecap="round"/><path d="M777.7 543.3 Q801.0 553.5 823.0 567.0" stroke="#809abb" stroke-width="16.5" fill="none" stroke-linecap="round"/><path d="M763.5 559.2 Q792.0 570.0 820.0 583.9" stroke="#7e98b9" stroke-width="16.5" fill="none" stroke-linecap="round"/><path d="M753.3 574.2 Q786.0 587.2 817.9 603.0" stroke="#7c96b7" stroke-width="16.5" fill="none" stroke-linecap="round"/><path d="M747.4 592.2 Q778.5 606.0 808.0 622.9" stroke="#7993b4" stroke-width="15.5" fill="none" stroke-linecap="round"/><path d="M777.7 538.0 Q801.0 548.2 823.0 561.7" stroke="#8ba3c2" stroke-width="6" fill="none" stroke-linecap="round" opacity="0.7" filter="url(#b2)"/><path d="M763.5 553.9 Q792.0 564.7 820.0 578.7" stroke="#8ba3c2" stroke-width="6" fill="none" stroke-linecap="round" opacity="0.7" filter="url(#b2)"/><path d="M753.3 568.9 Q786.0 582.0 817.9 597.7" stroke="#8ba3c2" stroke-width="6" fill="none" stroke-linecap="round" opacity="0.7" filter="url(#b2)"/><path d="M747.4 586.9 Q778.5 600.7 808.0 617.7" stroke="#8ba3c2" stroke-width="6" fill="none" stroke-linecap="round" opacity="0.7" filter="url(#b2)"/><ellipse cx="816.0" cy="561.7" rx="4.6" ry="3.2" fill="#93abc6" opacity="0.5" filter="url(#b1)"/><ellipse cx="813.7" cy="579.7" rx="4.6" ry="3.2" fill="#93abc6" opacity="0.5" filter="url(#b1)"/><ellipse cx="811.5" cy="598.5" rx="4.6" ry="3.2" fill="#93abc6" opacity="0.5" filter="url(#b1)"/><ellipse cx="802.2" cy="618.7" rx="4.6" ry="3.2" fill="#93abc6" opacity="0.5" filter="url(#b1)"/><path d="M769.5 551.2 Q796.5 561.7 823.5 576.0" stroke="#435b84" stroke-width="2.2" fill="none" stroke-linecap="round" opacity="0.85" filter="url(#b1)"/><path d="M757.5 566.7 Q789.0 578.7 821.2 594.0" stroke="#435b84" stroke-width="2.2" fill="none" stroke-linecap="round" opacity="0.85" filter="url(#b1)"/><path d="M750.0 583.2 Q782.2 596.7 816.0 613.5" stroke="#435b84" stroke-width="2.2" fill="none" stroke-linecap="round" opacity="0.85" filter="url(#b1)"/><path d="M756.0 609.0 Q783.0 621.0 810.0 636.0" stroke="#435b84" stroke-width="2.2" fill="none" stroke-linecap="round" opacity="0.85" filter="url(#b1)"/><path d="M735.0 615.0 Q747.0 642.0 765.0 654.0" stroke="#526a90" stroke-width="8" fill="none" opacity="0.6" filter="url(#b2)"/><path d="M740.2 643.5 Q754.5 661.5 771.0 661.8 T795.0 657.7 T812.2 637.5" stroke="#2f527b" stroke-width="3.4" fill="none" stroke-linecap="round" filter="url(#b1)"/><circle cx="840.0" cy="574.5" r="12.3" fill="none" stroke="#2c507a" stroke-width="3"/><circle cx="840.0" cy="574.5" r="12.3" fill="none" stroke="#a9bed4" stroke-width="1.3"/><path d="M828.0 588.0 Q838.5 595.5 840.0 624.0" stroke="#2b4c75" stroke-width="5" fill="none" stroke-linecap="round"/><path d="M828.0 588.0 Q838.5 595.5 840.0 624.0" stroke="#8faac6" stroke-width="1.4" fill="none" stroke-dasharray="2.2 2"/><path d="M840.7 618.0 L845.2 645.0" stroke="#c3d2df" stroke-width="1.8" fill="none"/><path d="M816.0 645.0 L810.0 661.5" stroke="#2d4f78" stroke-width="2.2" fill="none"/><circle cx="832.8" cy="642.7" r="15.3" fill="#2a4b74"/><circle cx="832.8" cy="642.7" r="14" fill="none" stroke="#9db5cc" stroke-width="1.1"/><circle cx="832.8" cy="642.7" r="9.6" fill="#b9bda6"/><path d="M830.8 642.7 l6.5 -7.5 l-1.2 6.3 l5.4 3.2 l-7.4 1 l-4.2 6.5 l-1 -6.4 l-6.4 -2.1 z" fill="#46597c"/></g></g>
<path d="M604.20 354.54 A301.00 301.00 0 0 1 846.99 826.96 L712.80 730.88 A136.00 136.00 0 0 0 604.20 519.58 Z M618.20 369.10 A287.00 287.00 0 0 1 843.30 807.09 L731.45 727.02 A150.00 150.00 0 0 0 618.20 506.66 Z" fill-rule="evenodd" fill="#21496e" opacity="0.42" mask="url(#pm)"/>
<path d="M604.20 354.54 A301.00 301.00 0 0 1 846.99 826.96 L712.80 730.88 A136.00 136.00 0 0 0 604.20 519.58 Z" fill="url(#glossB)"/>
<path d="M618.20 369.10 A287.00 287.00 0 0 1 843.30 807.09 L731.45 727.02 A150.00 150.00 0 0 0 618.20 506.66 Z" fill="none" stroke="#fff" stroke-opacity="0.55" stroke-width="1.5"/>
<g clip-path="url(#cbo)" fill="none" stroke="#fff" stroke-linecap="round">
<path d="M734.34 402.09 A287.00 287.00 0 0 1 840.30 811.81" stroke-opacity="0.55" stroke-width="3.2" filter="url(#b1)"/>
<path d="M620.48 506.96 A150.00 150.00 0 0 1 729.50 730.50" stroke-opacity="0.4" stroke-width="2.8" filter="url(#b1)"/>
<path d="M731.45 727.02 L843.30 807.09" stroke-opacity="0.6" stroke-width="3" filter="url(#b1)"/>
</g>
</g>

<!-- title -->
<text class="t" y="148"><tspan x="139.38" textLength="246.72" lengthAdjust="spacingAndGlyphs">AZƏRBAYCAN</tspan> <tspan x="401.89" textLength="340.61" lengthAdjust="spacingAndGlyphs">RESPUBLİKASININ</tspan> <tspan x="757.11" textLength="182.75" lengthAdjust="spacingAndGlyphs">İŞĞALDAN</tspan> <tspan x="954.99" textLength="99.94" lengthAdjust="spacingAndGlyphs">AZAD</tspan></text>
<text class="t" y="200"><tspan x="90.09" textLength="154.23" lengthAdjust="spacingAndGlyphs">EDİLMİŞ</tspan> <tspan x="258.11" textLength="249.78" lengthAdjust="spacingAndGlyphs">ƏRAZİLƏRİNƏ</tspan> <tspan x="518.81" textLength="126.17" lengthAdjust="spacingAndGlyphs">BÖYÜK</tspan> <tspan x="656.94" textLength="171.76" lengthAdjust="spacingAndGlyphs">QAYIDIŞA</tspan> <tspan x="843.26" textLength="84.62" lengthAdjust="spacingAndGlyphs">DAİR</tspan> <tspan x="939.51" textLength="10.55" lengthAdjust="spacingAndGlyphs">I</tspan> <tspan x="962.16" textLength="143.92" lengthAdjust="spacingAndGlyphs">DÖVLƏT</tspan></text>
<text class="t" y="252"><tspan x="368.79" textLength="201.34" lengthAdjust="spacingAndGlyphs">PROQRAMI</tspan> <tspan x="581.32" textLength="247.20" lengthAdjust="spacingAndGlyphs">(27.05.2025)</tspan></text>

<!-- labels -->
<text class="lb" x="96.76" y="785.5" textLength="72.55" lengthAdjust="spacingAndGlyphs">Qalan</text>
<text class="lv" x="97.02" y="822" textLength="176.98" lengthAdjust="spacingAndGlyphs">6638 (64,6%)</text>
<text class="lb" x="923.18" y="477.5" textLength="75.77" lengthAdjust="spacingAndGlyphs">Köçən</text>
<text class="lv" x="921.36" y="511" textLength="176.78" lengthAdjust="spacingAndGlyphs">3632 (35,4%)</text>

<!-- logo -->
<g id="logo"><polygon points="470.00,1073.00 474.60,1073.00 488.35,1083.12 488.35,1084.96 486.51,1084.96 470.00,1077.60" fill="url(#lg0)"/><polygon points="482.75,1073.00 487.35,1073.00 496.76,1083.12 496.76,1084.96 494.92,1084.96 482.75,1077.60" fill="url(#lg1)"/><polygon points="495.50,1073.00 500.10,1073.00 505.18,1083.12 505.18,1084.96 503.34,1084.96 495.50,1077.60" fill="url(#lg2)"/><polygon points="508.25,1073.00 512.85,1073.00 513.59,1083.12 513.59,1084.96 511.75,1084.96 508.25,1077.60" fill="url(#lg3)"/><polygon points="520.17,1083.12 521.00,1073.00 525.60,1073.00 525.60,1077.60 522.01,1084.96 520.17,1084.96" fill="url(#lg4)"/><polygon points="528.59,1083.12 533.75,1073.00 538.35,1073.00 538.35,1077.60 530.42,1084.96 528.59,1084.96" fill="url(#lg5)"/><polygon points="537.00,1083.12 546.50,1073.00 551.10,1073.00 551.10,1077.60 538.84,1084.96 537.00,1084.96" fill="url(#lg6)"/><polygon points="545.41,1083.12 559.25,1073.00 563.85,1073.00 563.85,1077.60 547.25,1084.96 545.41,1084.96" fill="url(#lg7)"/><polygon points="470.00,1085.85 474.60,1085.85 488.35,1091.60 488.35,1093.44 486.51,1093.44 470.00,1090.45" fill="url(#lg8)"/><polygon points="482.75,1085.85 487.35,1085.85 496.76,1091.60 496.76,1093.44 494.92,1093.44 482.75,1090.45" fill="url(#lg9)"/><polygon points="495.50,1085.85 500.10,1085.85 505.18,1091.60 505.18,1093.44 503.34,1093.44 495.50,1090.45" fill="url(#lg10)"/><polygon points="508.25,1085.85 512.85,1085.85 513.59,1091.60 513.59,1093.44 511.75,1093.44 508.25,1090.45" fill="url(#lg11)"/><polygon points="520.17,1091.60 521.00,1085.85 525.60,1085.85 525.60,1090.45 522.01,1093.44 520.17,1093.44" fill="url(#lg12)"/><polygon points="528.59,1091.60 533.75,1085.85 538.35,1085.85 538.35,1090.45 530.42,1093.44 528.59,1093.44" fill="url(#lg13)"/><polygon points="537.00,1091.60 546.50,1085.85 551.10,1085.85 551.10,1090.45 538.84,1093.44 537.00,1093.44" fill="url(#lg14)"/><polygon points="545.41,1091.60 559.25,1085.85 563.85,1085.85 563.85,1090.45 547.25,1093.44 545.41,1093.44" fill="url(#lg15)"/><polygon points="470.00,1098.70 474.60,1098.70 488.35,1100.08 488.35,1101.92 474.60,1103.30 470.00,1103.30" fill="url(#lg16)"/><polygon points="482.75,1098.70 487.35,1098.70 496.76,1100.08 496.76,1101.92 487.35,1103.30 482.75,1103.30" fill="url(#lg17)"/><polygon points="495.50,1098.70 500.10,1098.70 505.18,1100.08 505.18,1101.92 500.10,1103.30 495.50,1103.30" fill="url(#lg18)"/><polygon points="508.25,1098.70 512.85,1098.70 513.59,1100.08 513.59,1101.92 512.85,1103.30 508.25,1103.30" fill="url(#lg19)"/><polygon points="520.17,1100.08 521.00,1098.70 525.60,1098.70 525.60,1103.30 521.00,1103.30 520.17,1101.92" fill="url(#lg20)"/><polygon points="528.59,1100.08 533.75,1098.70 538.35,1098.70 538.35,1103.30 533.75,1103.30 528.59,1101.92" fill="url(#lg21)"/><polygon points="537.00,1100.08 546.50,1098.70 551.10,1098.70 551.10,1103.30 546.50,1103.30 537.00,1101.92" fill="url(#lg22)"/><polygon points="545.41,1100.08 559.25,1098.70 563.85,1098.70 563.85,1103.30 559.25,1103.30 545.41,1101.92" fill="url(#lg23)"/><polygon points="470.00,1111.55 486.51,1108.56 488.35,1108.56 488.35,1110.40 474.60,1116.15 470.00,1116.15" fill="url(#lg24)"/><polygon points="482.75,1111.55 494.92,1108.56 496.76,1108.56 496.76,1110.40 487.35,1116.15 482.75,1116.15" fill="url(#lg25)"/><polygon points="495.50,1111.55 503.34,1108.56 505.18,1108.56 505.18,1110.40 500.10,1116.15 495.50,1116.15" fill="url(#lg26)"/><polygon points="508.25,1111.55 511.75,1108.56 513.59,1108.56 513.59,1110.40 512.85,1116.15 508.25,1116.15" fill="url(#lg27)"/><polygon points="520.17,1108.56 522.01,1108.56 525.60,1111.55 525.60,1116.15 521.00,1116.15 520.17,1110.40" fill="url(#lg28)"/><polygon points="528.59,1108.56 530.42,1108.56 538.35,1111.55 538.35,1116.15 533.75,1116.15 528.59,1110.40" fill="url(#lg29)"/><polygon points="537.00,1108.56 538.84,1108.56 551.10,1111.55 551.10,1116.15 546.50,1116.15 537.00,1110.40" fill="url(#lg30)"/><polygon points="545.41,1108.56 547.25,1108.56 563.85,1111.55 563.85,1116.15 559.25,1116.15 545.41,1110.40" fill="url(#lg31)"/><polygon points="470.00,1124.40 486.51,1117.04 488.35,1117.04 488.35,1118.88 474.60,1129.00 470.00,1129.00" fill="url(#lg32)"/><polygon points="482.75,1124.40 494.92,1117.04 496.76,1117.04 496.76,1118.88 487.35,1129.00 482.75,1129.00" fill="url(#lg33)"/><polygon points="495.50,1124.40 503.34,1117.04 505.18,1117.04 505.18,1118.88 500.10,1129.00 495.50,1129.00" fill="url(#lg34)"/><polygon points="508.25,1124.40 511.75,1117.04 513.59,1117.04 513.59,1118.88 512.85,1129.00 508.25,1129.00" fill="url(#lg35)"/><polygon points="520.17,1117.04 522.01,1117.04 525.60,1124.40 525.60,1129.00 521.00,1129.00 520.17,1118.88" fill="url(#lg36)"/><polygon points="528.59,1117.04 530.42,1117.04 538.35,1124.40 538.35,1129.00 533.75,1129.00 528.59,1118.88" fill="url(#lg37)"/><polygon points="537.00,1117.04 538.84,1117.04 551.10,1124.40 551.10,1129.00 546.50,1129.00 537.00,1118.88" fill="url(#lg38)"/><polygon points="545.41,1117.04 547.25,1117.04 563.85,1124.40 563.85,1129.00 559.25,1129.00 545.41,1118.88" fill="url(#lg39)"/><polygon points="470.00,1137.25 486.51,1125.52 488.35,1125.52 488.35,1127.36 474.60,1141.85 470.00,1141.85" fill="url(#lg40)"/><polygon points="482.75,1137.25 494.92,1125.52 496.76,1125.52 496.76,1127.36 487.35,1141.85 482.75,1141.85" fill="url(#lg41)"/><polygon points="495.50,1137.25 503.34,1125.52 505.18,1125.52 505.18,1127.36 500.10,1141.85 495.50,1141.85" fill="url(#lg42)"/><polygon points="508.25,1137.25 511.75,1125.52 513.59,1125.52 513.59,1127.36 512.85,1141.85 508.25,1141.85" fill="url(#lg43)"/><polygon points="520.17,1125.52 522.01,1125.52 525.60,1137.25 525.60,1141.85 521.00,1141.85 520.17,1127.36" fill="url(#lg44)"/><polygon points="528.59,1125.52 530.42,1125.52 538.35,1137.25 538.35,1141.85 533.75,1141.85 528.59,1127.36" fill="url(#lg45)"/><polygon points="537.00,1125.52 538.84,1125.52 551.10,1137.25 551.10,1141.85 546.50,1141.85 537.00,1127.36" fill="url(#lg46)"/><polygon points="545.41,1125.52 547.25,1125.52 563.85,1137.25 563.85,1141.85 559.25,1141.85 545.41,1127.36" fill="url(#lg47)"/><polygon points="470.00,1150.10 486.51,1134.00 488.35,1134.00 488.35,1135.84 474.60,1154.70 470.00,1154.70" fill="url(#lg48)"/><polygon points="482.75,1150.10 494.92,1134.00 496.76,1134.00 496.76,1135.84 487.35,1154.70 482.75,1154.70" fill="url(#lg49)"/><polygon points="495.50,1150.10 503.34,1134.00 505.18,1134.00 505.18,1135.84 500.10,1154.70 495.50,1154.70" fill="url(#lg50)"/><polygon points="508.25,1150.10 511.75,1134.00 513.59,1134.00 513.59,1135.84 512.85,1154.70 508.25,1154.70" fill="url(#lg51)"/><polygon points="520.17,1134.00 522.01,1134.00 525.60,1150.10 525.60,1154.70 521.00,1154.70 520.17,1135.84" fill="url(#lg52)"/><polygon points="528.59,1134.00 530.42,1134.00 538.35,1150.10 538.35,1154.70 533.75,1154.70 528.59,1135.84" fill="url(#lg53)"/><polygon points="537.00,1134.00 538.84,1134.00 551.10,1150.10 551.10,1154.70 546.50,1154.70 537.00,1135.84" fill="url(#lg54)"/><polygon points="545.41,1134.00 547.25,1134.00 563.85,1150.10 563.85,1154.70 559.25,1154.70 545.41,1135.84" fill="url(#lg55)"/><polygon points="470.00,1162.95 486.51,1142.48 488.35,1142.48 488.35,1144.33 474.60,1167.55 470.00,1167.55" fill="url(#lg56)"/><polygon points="482.75,1162.95 494.92,1142.48 496.76,1142.48 496.76,1144.33 487.35,1167.55 482.75,1167.55" fill="url(#lg57)"/><polygon points="495.50,1162.95 503.34,1142.48 505.18,1142.48 505.18,1144.33 500.10,1167.55 495.50,1167.55" fill="url(#lg58)"/><polygon points="508.25,1162.95 511.75,1142.48 513.59,1142.48 513.59,1144.33 512.85,1167.55 508.25,1167.55" fill="url(#lg59)"/><polygon points="520.17,1142.48 522.01,1142.48 525.60,1162.95 525.60,1167.55 521.00,1167.55 520.17,1144.33" fill="url(#lg60)"/><polygon points="528.59,1142.48 530.42,1142.48 538.35,1162.95 538.35,1167.55 533.75,1167.55 528.59,1144.33" fill="url(#lg61)"/><polygon points="537.00,1142.48 538.84,1142.48 551.10,1162.95 551.10,1167.55 546.50,1167.55 537.00,1144.33" fill="url(#lg62)"/><polygon points="545.41,1142.48 547.25,1142.48 563.85,1162.95 563.85,1167.55 559.25,1167.55 545.41,1144.33" fill="url(#lg63)"/></g>
<text class="mtm" x="580.33" y="1136.7" textLength="157.02" lengthAdjust="spacingAndGlyphs">MTM</text>
</svg>
</body>
</html>
